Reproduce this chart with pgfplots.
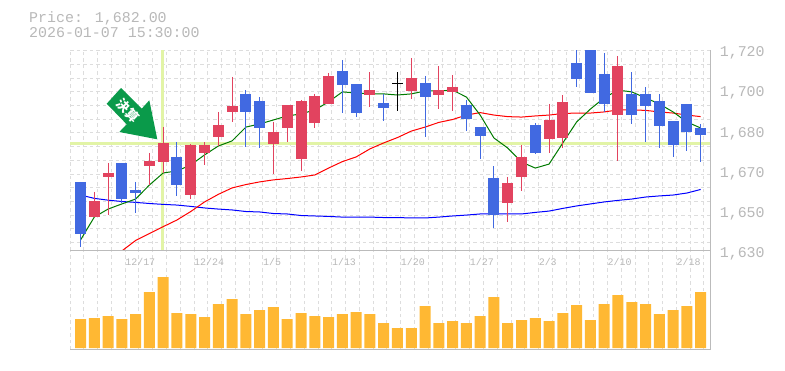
\documentclass[border=0pt]{standalone}
\usepackage{pgfplots}
\usepackage{pgfplotstable}
\usepackage{fontspec}
\pgfplotsset{compat=1.18}
\newfontfamily\mono{Liberation Mono}
\newfontfamily\cjk{Noto Sans CJK JP}
\definecolor{cblue}{HTML}{4169E1}
\definecolor{cred}{HTML}{E2435F}
\definecolor{cgrid}{HTML}{DDDDDD}
\definecolor{cframe}{HTML}{BBBBBB}
\definecolor{ctext}{HTML}{B8B8B8}
\definecolor{chigh}{HTML}{E2F4A6}
\definecolor{cvol}{HTML}{FFB833}
\definecolor{carrow}{HTML}{0A9A4A}
\definecolor{mgreen}{HTML}{007A00}
\pgfplotstableread{
i top bot hi lo
0 1660.8 1637.4 1660.8 1631.7
3 1669.3 1653.1 1669.3 1651.3
4 1657.2 1655.8 1660.8 1646.8
7 1672.0 1659.4 1678.7 1654.5
12 1700.3 1692.2 1702.0 1676.5
13 1697.1 1685.0 1698.9 1676.0
19 1710.6 1704.3 1715.5 1691.7
20 1704.7 1691.7 1704.7 1689.9
22 1696.2 1694.0 1700.3 1688.1
25 1705.2 1698.9 1708.3 1681.0
28 1695.3 1689.0 1697.6 1683.6
29 1685.4 1681.4 1685.4 1671.1
30 1662.6 1645.9 1667.9 1640.1
33 1686.3 1673.8 1687.2 1673.3
36 1714.2 1707.0 1722.0 1703.4
37 1722.0 1700.7 1722.0 1700.7
38 1709.2 1695.8 1718.7 1692.2
40 1700.3 1690.8 1710.1 1686.8
41 1700.3 1694.9 1703.4 1678.7
42 1697.1 1685.9 1700.3 1676.0
43 1688.1 1677.4 1688.1 1672.0
44 1695.8 1683.2 1695.8 1674.7
45 1685.0 1681.9 1686.8 1669.7
}\bluetab
\pgfplotstableread{
i top bot hi lo
1 1652.2 1645.0 1656.3 1645.0
2 1664.8 1663.0 1669.3 1645.9
5 1670.2 1667.9 1673.8 1659.4
6 1678.3 1669.7 1685.4 1664.8
8 1677.4 1654.9 1677.8 1653.1
9 1677.4 1673.8 1678.7 1668.4
10 1686.3 1681.0 1692.2 1676.9
11 1694.9 1692.2 1707.9 1687.7
14 1683.2 1677.8 1687.7 1664.4
15 1695.3 1685.0 1695.3 1678.7
16 1697.1 1671.1 1697.6 1665.7
17 1699.4 1687.2 1700.3 1685.0
18 1708.3 1695.8 1709.7 1695.8
21 1702.0 1699.8 1710.1 1694.4
24 1707.4 1701.6 1716.4 1698.0
26 1702.0 1699.8 1712.8 1693.5
27 1703.4 1701.2 1708.8 1692.6
31 1660.3 1651.3 1663.0 1642.8
32 1672.0 1663.0 1677.4 1656.7
34 1688.6 1680.1 1695.8 1673.8
35 1696.7 1680.5 1699.8 1676.0
39 1712.8 1690.8 1717.3 1670.2
}\redtab
\pgfplotstableread{
i top bot hi lo
23 1705.3 1704.9 1710.1 1692.6
}\blacktab
\pgfplotstableread{
i v
0 1634.7
1 1645.0
2 1648.6
3 1650.9
4 1653.1
5 1659.4
6 1664.8
7 1665.7
8 1668.4
9 1672.9
10 1676.9
11 1679.2
12 1685.4
13 1686.8
14 1688.6
15 1690.4
16 1691.3
17 1693.1
18 1696.7
19 1701.2
20 1700.7
21 1700.3
22 1700.3
23 1699.8
24 1700.3
25 1701.6
26 1701.6
27 1702.0
28 1698.9
29 1690.8
30 1680.5
31 1676.0
32 1669.7
33 1667.0
34 1668.8
35 1678.3
36 1687.7
37 1693.5
38 1698.5
39 1702.0
40 1701.2
41 1698.5
42 1695.8
43 1692.2
44 1687.7
45 1685.0
}\magreen
\pgfplotstableread{
i v
3 1629.8
4 1634.5
5 1637.6
6 1640.7
7 1643.7
8 1647.5
9 1651.8
10 1655.2
11 1658.1
12 1659.6
13 1660.8
14 1661.7
15 1662.3
16 1663.0
17 1663.9
18 1667.0
19 1669.9
20 1672.0
21 1675.6
22 1678.3
23 1680.7
24 1683.6
25 1685.4
26 1687.5
27 1688.8
28 1690.8
29 1691.9
30 1690.8
31 1690.1
32 1689.9
33 1690.4
34 1690.8
35 1691.5
36 1691.7
37 1691.7
38 1692.2
39 1693.1
40 1693.1
41 1692.9
42 1692.2
43 1691.7
44 1690.8
45 1690.1
}\mared
\pgfplotstableread{
i v
0 1654.9
1 1653.4
2 1652.6
3 1652.0
4 1651.6
5 1651.1
6 1650.7
7 1650.4
8 1649.8
9 1649.1
10 1648.6
11 1648.2
12 1647.5
13 1647.3
14 1646.6
15 1646.4
16 1645.7
17 1645.5
18 1645.3
19 1645.0
20 1645.0
21 1645.0
22 1644.8
23 1644.8
24 1644.6
25 1644.6
26 1645.0
27 1645.5
28 1645.9
29 1646.4
30 1646.4
31 1646.4
32 1646.4
33 1647.1
34 1647.7
35 1648.9
36 1650.0
37 1650.9
38 1651.8
39 1652.5
40 1653.1
41 1654.0
42 1654.5
43 1654.9
44 1655.8
45 1657.4
}\mablue
\pgfplotstableread{
i v
0 29
1 30
2 32
3 29
4 34
5 56
6 71
7 35
8 34
9 31
10 44
11 49
12 34
13 38
14 41
15 29
16 35
17 32
18 31
19 34
20 36
21 34
22 25
23 20
24 20
25 42
26 25
27 27
28 25
29 32
30 51
31 25
32 28
33 30
34 27
35 35
36 43
37 28
38 44
39 53
40 46
41 44
42 34
43 38
44 42
45 56
}\voltab
\newcommand{\gridx}{-0.762,0.238,1.238,2.238,3.238,4.238,5.238,6.238,7.238,8.238,9.238,10.238,11.238,12.238,13.238,14.238,15.238,16.238,17.238,18.238,19.238,20.238,21.238,22.238,23.238,24.238,25.238,26.238,27.238,28.238,29.238,30.238,31.238,32.238,33.238,34.238,35.238,36.238,37.238,38.238,39.238,40.238,41.238,42.238,43.238,44.238,45.238}
\pgfplotsset{
  panel/.style={
    scale only axis, width=640.3bp,
    xmin=-0.762, xmax=45.7,
    xtick=\gridx, xticklabels={},
    xmajorgrids, major tick length=0pt, minor tick length=0pt,
    grid style={cgrid,line width=1bp,dash pattern=on 3.5bp off 3bp},
    axis x line*=bottom, axis y line*=right,
    x axis line style={cframe,line width=1.2bp,-},
    y axis line style={cframe,line width=1.2bp,-},
    axis on top=false,
  },
  wick/.style={no marks,draw=none,forget plot,
    error bars/.cd,y dir=minus,y explicit,error mark=none,
    error bar style={#1,line width=1bp}},
  body/.style={no marks,draw=none,forget plot,
    error bars/.cd,y dir=minus,y explicit,error mark=none,
    error bar style={#1,line width=11bp}},
}
\begin{document}
\begin{tikzpicture}[x=1bp,y=1bp]
\useasboundingbox (0,0) rectangle (785,370);
\begin{axis}[panel,
  name=price, at={(70bp,119.5bp)}, anchor=south west, height=200.5bp,
  ymin=1630, ymax=1720,
  ytick={1720,1702,1684,1666,1648,1630},
  yticklabels={{1,720},{1,700},{1,680},{1,670},{1,650},{1,630}},
  yticklabel pos=right,
  yticklabel style={font=\fontsize{15}{15}\mono,text=ctext,anchor=west,xshift=6bp,yshift=-3.2bp},
  minor ytick={1719.7,1713.6,1707.4,1701.3,1695.1,1689.0,1682.8,1676.6,1670.5,1664.3,1658.2,1652.0,1645.9,1639.7,1633.6},
  yminorgrids, minor grid style={cgrid,line width=1bp,dash pattern=on 3.5bp off 3bp},
]
\addplot[chigh,line width=3bp,forget plot] coordinates {(-0.762,1678.1) (45.7,1678.1)};
\addplot[chigh,line width=3bp,forget plot] coordinates {(5.95,1630) (5.95,1720)};
\addplot[blue,line width=1bp] table[x=i,y=v] {\mablue};
\addplot[red,line width=1bp] table[x=i,y=v] {\mared};
\addplot[mgreen,line width=1bp] table[x=i,y=v] {\magreen};
\addplot[wick=cblue] table[x=i,y=hi,y error minus expr=\thisrow{hi}-\thisrow{lo},y error plus expr=0] {\bluetab};
\addplot[body=cblue] table[x=i,y=top,y error minus expr=\thisrow{top}-\thisrow{bot},y error plus expr=0] {\bluetab};
\addplot[wick=cred] table[x=i,y=hi,y error minus expr=\thisrow{hi}-\thisrow{lo},y error plus expr=0] {\redtab};
\addplot[body=cred] table[x=i,y=top,y error minus expr=\thisrow{top}-\thisrow{bot},y error plus expr=0] {\redtab};
\addplot[wick=black] table[x=i,y=hi,y error minus expr=\thisrow{hi}-\thisrow{lo},y error plus expr=0] {\blacktab};
\addplot[body=black] table[x=i,y=top,y error minus expr=\thisrow{top}-\thisrow{bot},y error plus expr=0] {\blacktab};
\end{axis}
\begin{axis}[panel,
  name=vol, at={(70bp,20.3bp)}, anchor=south west, height=99.2bp,
  ymin=-1.7, ymax=97.5, ytick=\empty,
  clip=false,
]
\addplot[ybar,bar width=11bp,bar shift=0pt,fill=cvol,draw=none] table[x=i,y=v] {\voltab};
\node[anchor=west,inner sep=0,font=\fontsize{10}{10}\mono,text=ctext] at (axis cs:3.238,86) {12/17};
\node[anchor=west,inner sep=0,font=\fontsize{10}{10}\mono,text=ctext] at (axis cs:8.238,86) {12/24};
\node[anchor=west,inner sep=0,font=\fontsize{10}{10}\mono,text=ctext] at (axis cs:13.238,86) {1/5};
\node[anchor=west,inner sep=0,font=\fontsize{10}{10}\mono,text=ctext] at (axis cs:18.238,86) {1/13};
\node[anchor=west,inner sep=0,font=\fontsize{10}{10}\mono,text=ctext] at (axis cs:23.238,86) {1/20};
\node[anchor=west,inner sep=0,font=\fontsize{10}{10}\mono,text=ctext] at (axis cs:28.238,86) {1/27};
\node[anchor=west,inner sep=0,font=\fontsize{10}{10}\mono,text=ctext] at (axis cs:33.238,86) {2/3};
\node[anchor=west,inner sep=0,font=\fontsize{10}{10}\mono,text=ctext] at (axis cs:38.238,86) {2/10};
\node[anchor=west,inner sep=0,font=\fontsize{10}{10}\mono,text=ctext] at (axis cs:43.238,86) {2/18};
\end{axis}
\draw[cframe,line width=1.2bp] (70,119.5) -- (710.3,119.5);
\draw[cframe,line width=1.2bp] (70,20.3) -- (710.3,20.3);
\draw[cframe,line width=1.2bp] (710.3,20.3) -- (710.3,320);
\fill[carrow] (121,282) -- (106.7,266.3) -- (126.7,245.7) -- (119.3,238) -- (157.3,230.7) -- (149.3,269.7) -- (141.7,261.3) -- cycle;
\node[rotate=-45,text=white,inner sep=0,font=\fontsize{13}{13}\cjk\bfseries] at (128.3,259.5) {決算};
\node[anchor=west,inner sep=0,font=\fontsize{15}{15}\mono,text=ctext] at (29,352) {Price: 1,682.00};
\node[anchor=west,inner sep=0,font=\fontsize{15}{15}\mono,text=ctext] at (29,337) {2026-01-07 15:30:00};
\end{tikzpicture}
\end{document}
